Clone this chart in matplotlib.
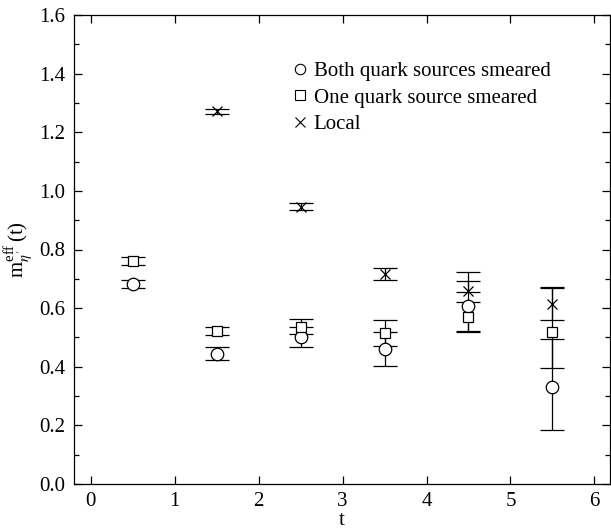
import matplotlib
matplotlib.use('Agg')
import matplotlib.pyplot as plt
from matplotlib.lines import Line2D
from matplotlib.ticker import MultipleLocator

# effective mass data
t_both = [0.5, 1.5, 2.5, 3.5, 4.5, 5.5]
m_both = [0.683, 0.445, 0.502, 0.460, 0.606, 0.330]
lo_both = [0.014, 0.022, 0.033, 0.057, 0.088, 0.146]
hi_both = [0.014, 0.022, 0.033, 0.057, 0.088, 0.164]

t_one = [0.5, 1.5, 2.5, 3.5, 4.5, 5.5]
m_one = [0.760, 0.522, 0.537, 0.516, 0.571, 0.520]
lo_one = [0.014, 0.013, 0.025, 0.045, 0.050, 0.125]
hi_one = [0.014, 0.013, 0.025, 0.045, 0.050, 0.150]

t_loc = [1.5, 2.5, 3.5, 4.5, 5.5]
m_loc = [1.271, 0.946, 0.716, 0.658, 0.615]
lo_loc = [0.008, 0.011, 0.020, 0.003, 0.055]
hi_loc = [0.008, 0.011, 0.020, 0.065, 0.058]

labels = ['Both quark sources smeared', 'One quark source smeared', 'Local']

plt.rcParams['font.family'] = ['Liberation Serif', 'DejaVu Serif']
plt.rcParams['mathtext.fontset'] = 'stix'

fig = plt.figure(figsize=(6.11, 5.31), dpi=100)
ax = fig.add_axes([74/611, 1-484/531, 535.5/611, 469/531])

common = dict(ecolor='black', elinewidth=0.9, capsize=8.5, capthick=0.9, ls='none')
ax.errorbar(t_both, m_both, yerr=[lo_both, hi_both], fmt='o', ms=9, mfc='white',
            mec='black', mew=0.9, **common)
ax.errorbar(t_one, m_one, yerr=[lo_one, hi_one], fmt='s', ms=7.5, mfc='white',
            mec='black', mew=0.9, **common)
ax.errorbar(t_loc, m_loc, yerr=[lo_loc, hi_loc], fmt='x', ms=7, mec='black',
            mew=0.9, **common)

#legend with markers only
handles = [Line2D([], [], ls='none', marker='o', ms=7.5, mfc='white', mec='black', mew=0.8),
           Line2D([], [], ls='none', marker='s', ms=6.5, mfc='white', mec='black', mew=0.8),
           Line2D([], [], ls='none', marker='x', ms=6.5, mec='black', mew=0.8)]
ax.legend(handles, labels, loc='upper left', bbox_to_anchor=(0.395, 0.918), frameon=False,
          fontsize=15, handlelength=0.6, handletextpad=0.35, labelspacing=0.32,
          borderaxespad=0)

ax.set_xlim(-0.2, 6.18)
ax.set_ylim(0.0, 1.6)
ax.xaxis.set_major_locator(MultipleLocator(1))
ax.yaxis.set_major_locator(MultipleLocator(0.2))
ax.yaxis.set_minor_locator(MultipleLocator(0.1))
ax.yaxis.set_major_formatter(plt.FormatStrFormatter('%.1f'))
ax.tick_params(which='both', direction='in', top=True, right=True, labelsize=15, width=0.9)
ax.tick_params(which='major', length=6, pad=6)
ax.tick_params(which='minor', length=3.5)
for s in ax.spines.values():
    s.set_linewidth(0.9)

ax.set_xlabel('t', fontsize=15, labelpad=0)
ax.set_ylabel(r"$\mathregular{m}_{\eta^{\prime}}^{\mathregular{eff}}\,\mathregular{(t)}$", fontsize=15, labelpad=3)

fig.savefig('out.png', dpi=100)
